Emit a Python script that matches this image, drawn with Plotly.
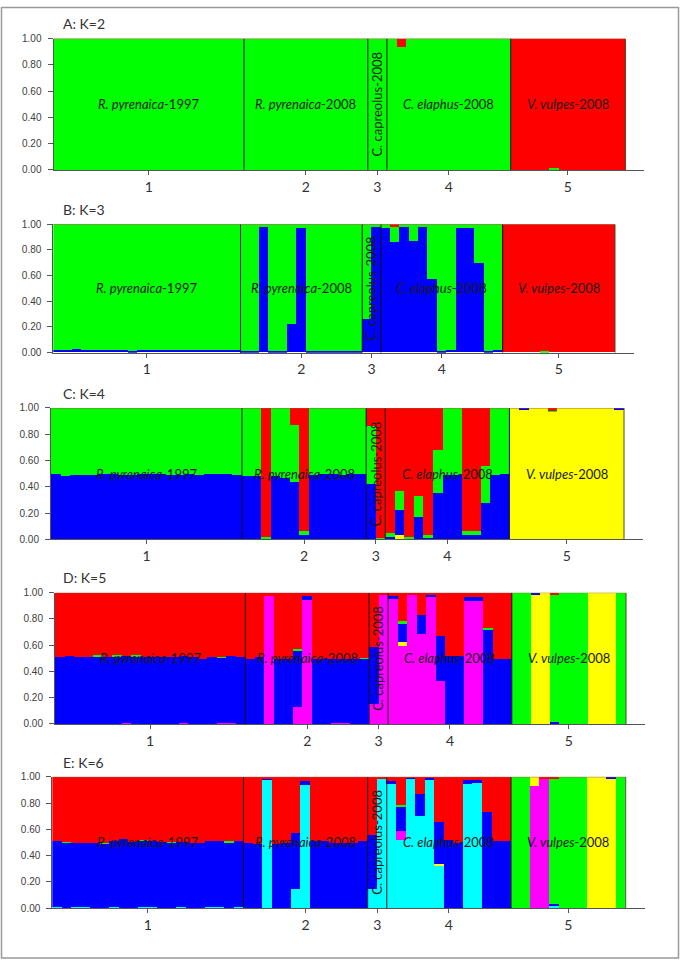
import plotly.graph_objects as go

# ---------------- data ----------------
# 60 individuals: pop1=20, pop2=13, pop3=2, pop4=13, pop5=12
group_sizes = [20, 13, 2, 13, 12]
group_ticks = ["1", "2", "3", "4", "5"]
group_names = ["<i>R. pyrenaica</i>-1997", "<i>R. pyrenaica</i>-2008",
               "C. capreolus-2008", "<i>C. elaphus</i>-2008", "<i>V. vulpes</i>-2008"]
panel_titles = ["A: K=2", "B: K=3", "C: K=4", "D: K=5", "E: K=6"]
y_ticks = [0.0, 0.2, 0.4, 0.6, 0.8, 1.0]
y_ticktext = ["0.00", "0.20", "0.40", "0.60", "0.80", "1.00"]

# ---- K=2 (bottom -> top: green, red)
A_green = ([1.00] * 20 +
           [1.00] * 13 +
           [1.00, 1.00] +
           [1.00, 0.94, 1.00, 1.00, 1.00, 1.00, 1.00, 1.00, 1.00, 1.00, 1.00, 1.00, 1.00] +
           [0.00, 0.00, 0.00, 0.00, 0.02, 0.00, 0.00, 0.00, 0.00, 0.00, 0.00, 0.00])
A_red = ([0.00] * 20 +
         [0.00] * 13 +
         [0.00, 0.00] +
         [0.00, 0.06, 0.00, 0.00, 0.00, 0.00, 0.00, 0.00, 0.00, 0.00, 0.00, 0.00, 0.00] +
         [1.00, 1.00, 1.00, 1.00, 0.98, 1.00, 1.00, 1.00, 1.00, 1.00, 1.00, 1.00])

# ---- K=3 (bottom -> top: blue, green, red)
B_blue = ([0.02, 0.02, 0.03, 0.02, 0.02, 0.02, 0.02, 0.02, 0.01, 0.02, 0.02, 0.02, 0.02, 0.02, 0.02, 0.02, 0.02, 0.02, 0.02, 0.02] +
          [0.01, 0.01, 0.98, 0.01, 0.01, 0.22, 0.97, 0.01, 0.01, 0.01, 0.01, 0.01, 0.01] +
          [0.26, 0.98] +
          [0.97, 0.86, 0.98, 0.87, 0.98, 0.57, 0.01, 0.02, 0.97, 0.97, 0.70, 0.01, 0.02] +
          [0.00, 0.00, 0.00, 0.00, 0.00, 0.00, 0.00, 0.00, 0.00, 0.00, 0.00, 0.00])
B_green = ([0.98, 0.98, 0.97, 0.98, 0.98, 0.98, 0.98, 0.98, 0.99, 0.98, 0.98, 0.98, 0.98, 0.98, 0.98, 0.98, 0.98, 0.98, 0.98, 0.98] +
           [0.99, 0.99, 0.02, 0.99, 0.99, 0.78, 0.03, 0.99, 0.99, 0.99, 0.99, 0.99, 0.99] +
           [0.74, 0.02] +
           [0.03, 0.12, 0.02, 0.13, 0.02, 0.43, 0.99, 0.98, 0.03, 0.03, 0.30, 0.99, 0.98] +
           [0.00, 0.00, 0.00, 0.00, 0.01, 0.00, 0.00, 0.00, 0.00, 0.00, 0.00, 0.00])
B_red = ([0.00] * 20 +
         [0.00] * 13 +
         [0.00, 0.00] +
         [0.00, 0.02, 0.00, 0.00, 0.00, 0.00, 0.00, 0.00, 0.00, 0.00, 0.00, 0.00, 0.00] +
         [1.00, 1.00, 1.00, 1.00, 0.99, 1.00, 1.00, 1.00, 1.00, 1.00, 1.00, 1.00])

# ---- K=4 (bottom -> top: yellow, blue, green, red)
C_yellow = ([0.00] * 20 +
            [0.00] * 13 +
            [0.00, 0.00] +
            [0.00, 0.03, 0.00, 0.00, 0.00, 0.00, 0.00, 0.00, 0.00, 0.00, 0.00, 0.00, 0.00] +
            [1.00, 0.99, 1.00, 1.00, 0.97, 1.00, 1.00, 1.00, 1.00, 1.00, 1.00, 0.99])
C_blue = ([0.50, 0.48, 0.49, 0.49, 0.49, 0.50, 0.50, 0.49, 0.49, 0.50, 0.50, 0.50, 0.49, 0.49, 0.50, 0.49, 0.50, 0.50, 0.50, 0.49] +
          [0.48, 0.48, 0.01, 0.48, 0.47, 0.44, 0.03, 0.49, 0.50, 0.50, 0.49, 0.50, 0.50] +
          [0.42, 0.005] +
          [0.02, 0.19, 0.01, 0.17, 0.01, 0.35, 0.49, 0.49, 0.03, 0.03, 0.28, 0.49, 0.50] +
          [0.00, 0.01, 0.00, 0.00, 0.00, 0.00, 0.00, 0.00, 0.00, 0.00, 0.00, 0.01])
C_green = ([0.50, 0.52, 0.51, 0.51, 0.51, 0.50, 0.50, 0.51, 0.51, 0.50, 0.50, 0.50, 0.51, 0.51, 0.50, 0.51, 0.50, 0.50, 0.50, 0.51] +
           [0.52, 0.52, 0.01, 0.52, 0.53, 0.43, 0.03, 0.51, 0.50, 0.50, 0.51, 0.50, 0.50] +
           [0.44, 0.005] +
           [0.03, 0.15, 0.01, 0.16, 0.02, 0.33, 0.51, 0.51, 0.03, 0.03, 0.28, 0.51, 0.50] +
           [0.00, 0.00, 0.00, 0.00, 0.01, 0.00, 0.00, 0.00, 0.00, 0.00, 0.00, 0.00])
C_red = ([0.00] * 20 +
         [0.00, 0.00, 0.98, 0.00, 0.00, 0.13, 0.94, 0.00, 0.00, 0.00, 0.00, 0.00, 0.00] +
         [0.14, 0.99] +
         [0.95, 0.63, 0.98, 0.67, 0.97, 0.32, 0.00, 0.00, 0.94, 0.94, 0.44, 0.00, 0.00] +
         [0.00, 0.00, 0.00, 0.00, 0.02, 0.00, 0.00, 0.00, 0.00, 0.00, 0.00, 0.00])

# ---- K=5 (bottom -> top: magenta, yellow, blue, green, red)
D_magenta = ([0.00, 0.00, 0.00, 0.00, 0.00, 0.00, 0.00, 0.01, 0.00, 0.00, 0.00, 0.00, 0.00, 0.01, 0.00, 0.00, 0.00, 0.01, 0.01, 0.00] +
             [0.00, 0.00, 0.98, 0.00, 0.00, 0.13, 0.95, 0.00, 0.00, 0.01, 0.01, 0.00, 0.00] +
             [0.155, 0.985] +
             [0.955, 0.60, 0.985, 0.69, 0.97, 0.33, 0.00, 0.00, 0.94, 0.94, 0.00, 0.00, 0.00] +
             [0.00, 0.00, 0.00, 0.00, 0.00, 0.00, 0.00, 0.00, 0.00, 0.00, 0.00, 0.00])
D_yellow = ([0.00] * 20 +
            [0.00] * 13 +
            [0.00, 0.00] +
            [0.00, 0.03, 0.00, 0.00, 0.00, 0.00, 0.00, 0.00, 0.00, 0.00, 0.00, 0.00, 0.00] +
            [0.00, 0.00, 0.99, 1.00, 0.00, 0.00, 0.00, 0.00, 1.00, 1.00, 1.00, 0.00])
D_blue = ([0.51, 0.52, 0.51, 0.51, 0.52, 0.51, 0.52, 0.51, 0.52, 0.51, 0.51, 0.51, 0.51, 0.51, 0.51, 0.50, 0.51, 0.50, 0.51, 0.51] +
          [0.50, 0.51, 0.00, 0.50, 0.50, 0.43, 0.03, 0.50, 0.50, 0.49, 0.49, 0.50, 0.50] +
          [0.435, 0.00] +
          [0.02, 0.14, 0.00, 0.14, 0.02, 0.34, 0.52, 0.52, 0.03, 0.03, 0.72, 0.50, 0.50] +
          [0.00, 0.00, 0.01, 0.00, 0.015, 0.00, 0.00, 0.00, 0.00, 0.00, 0.00, 0.00])
D_green = ([0.00, 0.00, 0.00, 0.00, 0.005, 0.00, 0.005, 0.00, 0.005, 0.00, 0.00, 0.00, 0.00, 0.00, 0.00, 0.00, 0.00, 0.005, 0.00, 0.00] +
           [0.00, 0.00, 0.00, 0.00, 0.00, 0.01, 0.00, 0.00, 0.00, 0.00, 0.00, 0.00, 0.005] +
           [0.00, 0.00] +
           [0.00, 0.015, 0.00, 0.00, 0.00, 0.00, 0.00, 0.00, 0.00, 0.00, 0.01, 0.00, 0.00] +
           [1.00, 1.00, 0.00, 0.00, 0.975, 1.00, 1.00, 1.00, 0.00, 0.00, 0.00, 1.00])
D_red = ([0.49, 0.48, 0.49, 0.49, 0.475, 0.49, 0.475, 0.48, 0.475, 0.49, 0.49, 0.49, 0.49, 0.48, 0.49, 0.50, 0.49, 0.485, 0.48, 0.49] +
         [0.50, 0.49, 0.02, 0.50, 0.50, 0.43, 0.02, 0.50, 0.50, 0.50, 0.50, 0.50, 0.495] +
         [0.41, 0.015] +
         [0.025, 0.215, 0.015, 0.17, 0.01, 0.33, 0.48, 0.48, 0.03, 0.03, 0.27, 0.50, 0.50] +
         [0.00, 0.00, 0.00, 0.00, 0.01, 0.00, 0.00, 0.00, 0.00, 0.00, 0.00, 0.00])

# ---- K=6 (bottom -> top: cyan, magenta, yellow, blue, green, red)
E_cyan = ([0.01, 0.00, 0.01, 0.01, 0.00, 0.00, 0.01, 0.00, 0.00, 0.01, 0.01, 0.00, 0.00, 0.01, 0.00, 0.00, 0.01, 0.01, 0.00, 0.01] +
          [0.00, 0.00, 0.98, 0.00, 0.00, 0.15, 0.94, 0.00, 0.00, 0.00, 0.00, 0.00, 0.00] +
          [0.15, 0.985] +
          [0.945, 0.52, 0.985, 0.70, 0.975, 0.325, 0.005, 0.00, 0.95, 0.955, 0.00, 0.00, 0.00] +
          [0.00, 0.00, 0.00, 0.00, 0.015, 0.00, 0.00, 0.00, 0.00, 0.00, 0.00, 0.00])
E_magenta = ([0.00] * 20 +
             [0.00] * 13 +
             [0.00, 0.00] +
             [0.00, 0.07, 0.00, 0.00, 0.00, 0.00, 0.00, 0.00, 0.00, 0.00, 0.00, 0.00, 0.00] +
             [0.00, 0.00, 0.935, 0.99, 0.00, 0.00, 0.00, 0.00, 0.00, 0.00, 0.00, 0.00])
E_yellow = ([0.00] * 20 +
            [0.00] * 13 +
            [0.00, 0.00] +
            [0.00, 0.00, 0.00, 0.00, 0.00, 0.01, 0.00, 0.00, 0.00, 0.00, 0.00, 0.00, 0.00] +
            [0.00, 0.00, 0.065, 0.00, 0.00, 0.00, 0.00, 0.00, 1.00, 1.00, 0.99, 0.00])
E_blue = ([0.505, 0.50, 0.485, 0.49, 0.495, 0.495, 0.505, 0.53, 0.505, 0.505, 0.50, 0.505, 0.50, 0.495, 0.50, 0.495, 0.50, 0.50, 0.505, 0.505] +
          [0.50, 0.49, 0.01, 0.49, 0.50, 0.42, 0.03, 0.51, 0.51, 0.50, 0.50, 0.50, 0.51] +
          [0.41, 0.005] +
          [0.025, 0.18, 0.01, 0.17, 0.02, 0.32, 0.515, 0.50, 0.025, 0.025, 0.735, 0.51, 0.51] +
          [0.00, 0.00, 0.00, 0.00, 0.02, 0.00, 0.00, 0.00, 0.00, 0.00, 0.01, 0.00])
E_green = ([0.00, 0.005, 0.00, 0.00, 0.00, 0.005, 0.00, 0.00, 0.00, 0.005, 0.00, 0.00, 0.005, 0.00, 0.00, 0.00, 0.00, 0.00, 0.005, 0.00] +
           [0.00] * 13 +
           [0.00, 0.00] +
           [0.00, 0.02, 0.00, 0.00, 0.00, 0.00, 0.00, 0.00, 0.00, 0.00, 0.00, 0.00, 0.00] +
           [1.00, 1.00, 0.00, 0.00, 0.955, 1.00, 1.00, 1.00, 0.00, 0.00, 0.00, 1.00])
E_red = ([0.485, 0.495, 0.505, 0.50, 0.505, 0.50, 0.485, 0.47, 0.495, 0.48, 0.49, 0.495, 0.495, 0.495, 0.50, 0.505, 0.49, 0.49, 0.49, 0.485] +
         [0.50, 0.51, 0.01, 0.51, 0.50, 0.43, 0.03, 0.49, 0.49, 0.50, 0.50, 0.50, 0.49] +
         [0.44, 0.01] +
         [0.03, 0.21, 0.005, 0.13, 0.005, 0.345, 0.48, 0.50, 0.025, 0.02, 0.265, 0.49, 0.49] +
         [0.00, 0.00, 0.00, 0.01, 0.01, 0.00, 0.00, 0.00, 0.00, 0.00, 0.00, 0.00])

# ---------------- styling / layout ----------------
W, H = 685, 967
COL = {"green": "#00FF00", "red": "#FF0000", "blue": "#0000FF",
       "yellow": "#FFFF00", "magenta": "#FF00FF", "cyan": "#00FFFF"}

panel_series = [
    [("green", A_green), ("red", A_red)],
    [("blue", B_blue), ("green", B_green), ("red", B_red)],
    [("yellow", C_yellow), ("blue", C_blue), ("green", C_green), ("red", C_red)],
    [("magenta", D_magenta), ("yellow", D_yellow), ("blue", D_blue), ("green", D_green), ("red", D_red)],
    [("cyan", E_cyan), ("magenta", E_magenta), ("yellow", E_yellow), ("blue", E_blue), ("green", E_green), ("red", E_red)],
]
# pixel geometry of each panel: left edge, right edge of last bar, top (1.0), bottom (0.0)
panel_px = [
    (53.5, 625.0, 33.0, 166.0),
    (53.3, 615.0, 221.0, 351.0),
    (51.0, 624.0, 407.0, 540.0),
    (55.0, 626.0, 594.0, 727.0),
    (52.3, 625.7, 780.5, 913.5),
]

n_ind = sum(group_sizes)
XMAX = n_ind + 2  # axis line extends a little past the last bar
bounds = [0]
for g in group_sizes:
    bounds.append(bounds[-1] + g)
centers = [(bounds[i] + bounds[i + 1]) / 2 for i in range(len(group_sizes))]
xs = [i + 0.5 for i in range(n_ind)]

fig = go.Figure()
layout = dict(width=W, height=H, margin=dict(l=0, r=0, t=0, b=0),
              paper_bgcolor="white", plot_bgcolor="white",
              barmode="stack", bargap=0, showlegend=False)
annotations = []
shapes = []

LBL_FONT = "Lato, 'Open Sans', sans-serif"

for k, (series, (x0, xe, top, bot)) in enumerate(zip(panel_series, panel_px), start=1):
    xa = "x" if k == 1 else f"x{k}"
    ya = "y" if k == 1 else f"y{k}"
    xkey = "xaxis" if k == 1 else f"xaxis{k}"
    ykey = "yaxis" if k == 1 else f"yaxis{k}"
    for cname, vals in series:
        fig.add_trace(go.Bar(x=xs, y=vals, width=1.0, xaxis=xa, yaxis=ya,
                             marker=dict(color=COL[cname], line=dict(width=0)),
                             hoverinfo="skip", showlegend=False))
    bar_w = (xe - x0) / n_ind
    xr = x0 + bar_w * XMAX
    layout[xkey] = dict(domain=[x0 / W, xr / W], range=[0, XMAX], anchor=ya,
                        tickmode="array", tickvals=centers, ticktext=group_ticks,
                        ticks="outside", ticklen=4, tickcolor="#555", tickwidth=1,
                        showline=True, linecolor="#555", linewidth=1,
                        showgrid=False, zeroline=False, fixedrange=True,
                        tickfont=dict(family=LBL_FONT, size=14, color="#333"))
    layout[ykey] = dict(domain=[1 - bot / H, 1 - top / H], range=[0, 1], anchor=xa,
                        tickmode="array", tickvals=y_ticks, ticktext=y_ticktext,
                        ticks="outside", ticklen=5, tickcolor="#555", tickwidth=1,
                        showline=True, linecolor="#555", linewidth=1,
                        showgrid=False, zeroline=False, fixedrange=True,
                        ticklabelstandoff=4,
                        tickfont=dict(family="'Liberation Sans', Arial, sans-serif", size=10, color="#404040"))
    # panel title
    annotations.append(dict(xref="paper", yref="paper", x=61 / W, y=1 - (top - 15) / H,
                            xanchor="left", yanchor="middle", showarrow=False,
                            text=panel_titles[k - 1],
                            font=dict(family=LBL_FONT, size=14, color="#333")))
    # population labels
    for gi, (cx, name) in enumerate(zip(centers, group_names)):
        rot = -90 if group_sizes[gi] < 5 else 0
        annotations.append(dict(xref=xa, yref=ya, x=cx, y=0.5, text=name,
                                textangle=rot, showarrow=False,
                                xanchor="center", yanchor="middle",
                                font=dict(family=LBL_FONT, size=13, color="#1a1a1a")))
    # population separators and right edge
    for b in bounds[1:]:
        shapes.append(dict(type="line", xref=xa, yref=ya, x0=b, x1=b, y0=0, y1=1,
                           line=dict(color="#111" if b < n_ind else "#4a4a2a", width=1)))
    # thin top edge
    shapes.append(dict(type="line", xref=xa, yref=ya, x0=0, x1=n_ind, y0=1, y1=1,
                       line=dict(color="#9a5a30", width=1)))

# outer grey frame
shapes.append(dict(type="rect", xref="paper", yref="paper",
                   x0=1.5 / W, x1=678.5 / W, y0=1 - 964 / H, y1=1 - 1.5 / H,
                   line=dict(color="#9a9a9a", width=1.5), fillcolor="rgba(0,0,0,0)"))

layout["annotations"] = annotations
layout["shapes"] = shapes
fig.update_layout(**layout)

fig.write_html("out.html", config={"displayModeBar": False},
               post_script="document.body.style.margin='0';document.body.style.overflow='hidden';")
